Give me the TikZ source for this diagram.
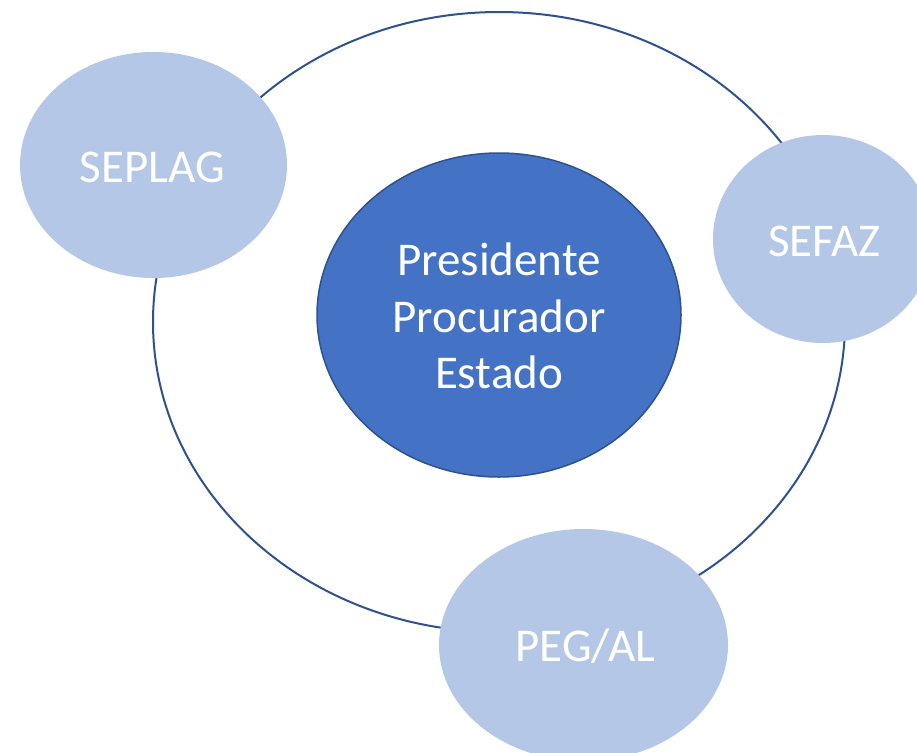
\documentclass[tikz,border=0pt]{standalone}
\usepackage{fontspec}
\setmainfont{Carlito}
\usetikzlibrary{shapes.geometric}
\definecolor{ringc}{HTML}{2F528F}
\definecolor{mainc}{HTML}{4472C4}
\definecolor{satc}{HTML}{B4C7E7}
\tikzset{
  sat/.style={ellipse, fill=satc, draw=none, inner sep=0pt},
  lbl/.style={text=white, anchor=base, inner sep=0pt, font=\fontsize{47}{56}\selectfont},
  mainlbl/.style={lbl, font=\fontsize{47}{57}\selectfont},
}
\begin{document}
\begin{tikzpicture}[x=1pt,y=-1pt]
\useasboundingbox (0,0) rectangle (917,752);
\clip (0,0) rectangle (917,752);
\fill[white] (0,0) rectangle (917,752);
\node[ellipse, draw=ringc, line width=2pt, minimum width=692pt, minimum height=620pt, inner sep=0pt] (ring) at (499,322) {};
\node[sat, minimum width=267pt, minimum height=226pt] (seplag) at (153.5,165) {};
\node[sat, minimum width=220pt, minimum height=208pt] (sefaz) at (823,239) {};
\node[sat, minimum width=289pt, minimum height=232pt] (peg) at (583.5,645) {};
\node[ellipse, fill=mainc, draw=ringc, line width=1.5pt, minimum width=364pt, minimum height=324pt, inner sep=0pt] (pres) at (499,315) {};
\node[lbl] (tseplag) at (152.5,182) {SEPLAG};
\node[lbl] (tsefaz) at (824.5,256) {SEFAZ};
\node[lbl] (tpeg) at (585.5,661) {PEG/AL};
\node[mainlbl] (t1) at (499,275) {Presidente};
\node[mainlbl] (t2) at (499,332) {Procurador};
\node[mainlbl] (t3) at (499,388) {Estado};
\end{tikzpicture}
\end{document}
